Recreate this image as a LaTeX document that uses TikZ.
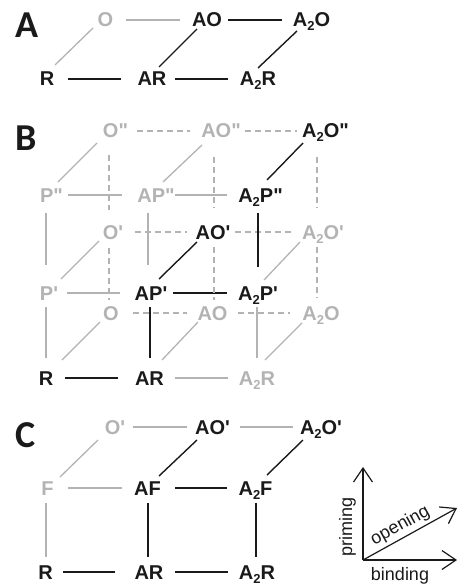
\documentclass[tikz,border=0pt]{standalone}
\usepackage{fontspec}
\setmainfont{Liberation Sans}
\newfontfamily\panelfont{Carlito}
\usetikzlibrary{calc,arrows.meta}
\definecolor{blk}{HTML}{1A1A1A}
\definecolor{gry}{HTML}{B3B3B3}
\newcommand\stwo{\raisebox{-4pt}{\fontsize{13}{13}\selectfont 2}}
\newcommand\pq{\textquotesingle}
\newcommand\pqq{\textquotedbl}
\newcommand\cn[5]{\draw[#1] ($(#2.base)+(#3)$) -- ($(#4.base)+(#5)$);}
\begin{document}
\begin{tikzpicture}[x=1pt,y=-1pt,
 lbl/.style={font=\fontsize{20}{20}\selectfont\bfseries, inner sep=0pt, anchor=base},
 kl/.style={lbl,text=blk}, gl/.style={lbl,text=gry},
 kc/.style={draw=blk,line width=1.4pt}, gc/.style={draw=gry,line width=1.3pt},
 gd/.style={gc,dash pattern=on 6pt off 4pt},
 panel/.style={font=\panelfont\fontsize{38}{38}\selectfont\bfseries, inner sep=0pt, anchor=base west, text=blk},
 axis/.style={draw=blk,line width=1.2pt,-{Straight Barb[length=14pt,width=19pt]}},
 axlbl/.style={font=\fontsize{18}{18}\selectfont, inner sep=0pt, text=blk}]
\useasboundingbox (0,0) rectangle (458,585);
% ---------- Panel A ----------
\node[panel] (pA) at (15,38) {A};
\node[kl] (aR) at (47,86) {R};
\node[kl] (aAR) at (152,86) {AR};
\node[kl] (aA2R) at (258,86) {A\stwo R};
\node[gl] (aO) at (105.5,27) {O};
\node[kl] (aAO) at (207,27) {AO};
\node[kl] (aA2O) at (311.5,27) {A\stwo O};
\cn{gc}{aO}{20.5,-7}{aAO}{-27,-7}
\cn{kc}{aAO}{21,-7}{aA2O}{-29.5,-7}
\cn{kc}{aR}{21,-7}{aAR}{-31,-7}
\cn{kc}{aAR}{23,-7}{aA2R}{-30,-7}
\cn{gc}{aR}{8,-21}{aO}{-12.5,1}
\cn{kc}{aAR}{7,-19}{aAO}{-10,2}
\cn{kc}{aA2R}{0,-18}{aA2O}{-14.5,4}
% ---------- Panel B ----------
\node[panel] (pB) at (15,151) {B};
\node[gl] (bO2) at (115.5,138) {O\pqq};
\node[gl] (bAO2) at (221,138) {AO\pqq};
\node[kl] (bA2O2) at (325.5,138) {A\stwo O\pqq};
\node[gl] (bP2) at (51.5,202) {P\pqq};
\node[gl] (bAP2) at (156,202) {AP\pqq};
\node[kl] (bA2P2) at (260.5,202) {A\stwo P\pqq};
\node[gl] (bO1) at (113,239) {O\pq};
\node[kl] (bAO1) at (213,239) {AO\pq};
\node[gl] (bA2O1) at (323,239) {A\stwo O\pq};
\node[gl] (bP1) at (49,300) {P\pq};
\node[kl] (bAP1) at (151,300) {AP\pq};
\node[kl] (bA2P1) at (258,300) {A\stwo P\pq};
\node[gl] (bO) at (111,320) {O};
\node[gl] (bAO) at (212.5,320) {AO};
\node[gl] (bA2O) at (321,320) {A\stwo O};
\node[kl] (bR) at (46,385) {R};
\node[kl] (bAR) at (149.5,385) {AR};
\node[gl] (bA2R) at (257,385) {A\stwo R};
% horizontal
\cn{gd}{bO2}{21.5,-7}{bAO2}{-31,-7}
\cn{gd}{bAO2}{24,-7}{bA2O2}{-28.5,-7}
\cn{gc}{bP2}{16.5,-7}{bAP2}{-34,-7}
\cn{gc}{bAP2}{19,-7}{bA2P2}{-33.5,-7}
\cn{gd}{bO1}{22,-7}{bAO1}{-26,-7}
\cn{gd}{bAO1}{22,-7}{bA2O1}{-31,-7}
\cn{gc}{bP1}{18,-7}{bAP1}{-31,-7}
\cn{kc}{bAP1}{22,-7}{bA2P1}{-31,-7}
\cn{gd}{bO}{22,-7}{bAO}{-25.5,-7}
\cn{gd}{bAO}{25.5,-7}{bA2O}{-31,-7}
\cn{kc}{bR}{19,-7}{bAR}{-31.5,-7}
\cn{gc}{bAR}{25.5,-7}{bA2R}{-29,-7}
% vertical
\cn{gc}{bP2}{-5.5,11}{bP1}{-3,-35}
\cn{gc}{bAP2}{-8,11}{bAP1}{-3,-35}
\cn{kc}{bA2P2}{-2.5,11}{bA2P1}{0,-33}
\cn{gc}{bP1}{-3,7}{bR}{0,-27}
\cn{kc}{bAP1}{-1,7}{bAR}{0.5,-27}
\cn{gc}{bA2P1}{-1,7}{bA2R}{0,-27}
\cn{gd}{bO2}{-6.5,17}{bO1}{-4,-29}
\cn{gd}{bO1}{-4,9}{bO}{-2,-20}
\cn{gd}{bAO2}{-7,19}{bAO1}{1,-31}
\cn{gd}{bAO1}{1,8}{bAO}{1.5,-20}
\cn{gd}{bA2O2}{-8.5,19}{bA2O1}{-6,-31}
\cn{gd}{bA2O1}{-6,8}{bA2O}{-4,-22}
% diagonal
\cn{gc}{bO2}{-18.5,5}{bP2}{6.5,-20}
\cn{gc}{bAO2}{-19,7}{bAP2}{7,-20}
\cn{kc}{bA2O2}{-22.5,5}{bA2P2}{6.5,-22}
\cn{gc}{bO1}{-14,2}{bP1}{12,-21}
\cn{kc}{bAO1}{-16,3}{bAP1}{8,-21}
\cn{gc}{bA2O1}{-23,3}{bA2P1}{6,-20}
\cn{gc}{bO}{-11,2}{bR}{16,-25}
\cn{gc}{bAO}{-14.5,2}{bAR}{12.5,-25}
\cn{gc}{bA2O}{-19,3}{bA2R}{8,-25}
% ---------- Panel C ----------
\node[panel] (pC) at (15,447) {C};
\node[gl] (cO1) at (115,434) {O\pq};
\node[kl] (cAO1) at (212.5,434) {AO\pq};
\node[kl] (cA2O1) at (321,434) {A\stwo O\pq};
\node[gl] (cF) at (47.5,495) {F};
\node[kl] (cAF) at (147.5,495) {AF};
\node[kl] (cA2F) at (255.5,495) {A\stwo F};
\node[kl] (cR) at (45.5,579) {R};
\node[kl] (cAR) at (149,579) {AR};
\node[kl] (cA2R) at (257,579) {A\stwo R};
\cn{gc}{cO1}{18,-7}{cAO1}{-25.5,-7}
\cn{gc}{cAO1}{27.5,-7}{cA2O1}{-28,-7}
\cn{gc}{cO1}{-17,6}{cF}{12.5,-18}
\cn{kc}{cAO1}{-15.5,6}{cAF}{11.5,-19}
\cn{kc}{cA2O1}{-18,6}{cA2F}{11.5,-20}
\cn{gc}{cF}{20.5,-7}{cAF}{-25.5,-7}
\cn{kc}{cAF}{27.5,-7}{cA2F}{-28.5,-7}
\cn{gc}{cF}{-1.5,8}{cR}{0.5,-22}
\cn{kc}{cAF}{0.5,8}{cAR}{-1,-22}
\cn{kc}{cA2F}{0.5,8}{cA2R}{-1,-22}
\cn{kc}{cR}{17.5,-7}{cAR}{-34,-7}
\cn{kc}{cAR}{26,-7}{cA2R}{-29,-7}
% ---------- Axes ----------
\coordinate (ax0) at (363,560);
\coordinate (axU) at (363,467);
\coordinate (axR) at (457,560);
\coordinate (axD) at (457,508);
\draw[axis] (ax0) -- (axU);
\draw[axis] (ax0) -- (axR);
\draw[axis] (ax0) -- (axD);
\node[axlbl, rotate=90] (tPrim) at (347.5,527) {priming};
\node[axlbl, anchor=base, rotate=29] (tOpen) at (402.5,530) {opening};
\node[axlbl, anchor=base] (tBind) at (400,580) {binding};
\end{tikzpicture}
\end{document}
